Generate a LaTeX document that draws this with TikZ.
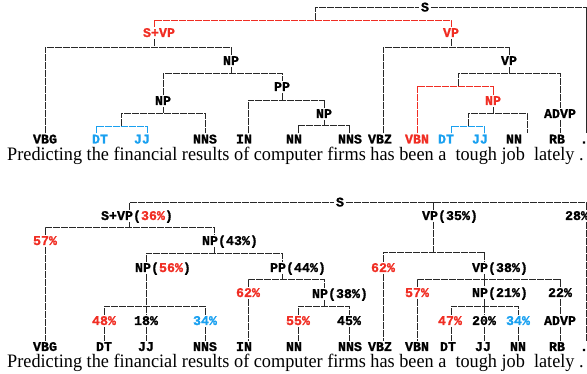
\documentclass[tikz,border=0pt]{standalone}
\usepackage{fontspec}
\newfontfamily\lblf[BoldFeatures={FakeBold=1.2}]{Liberation Mono}
\newfontfamily\sentf[FakeStretch=0.96]{Liberation Serif}
\newcommand\lblfont{\lblf\bfseries\fontsize{13.3pt}{14pt}\selectfont}
\newcommand\sentfont{\sentf\fontsize{19pt}{22pt}\selectfont}
\definecolor{tred}{RGB}{240,45,35}
\definecolor{tblue}{RGB}{25,160,240}
\definecolor{tline}{RGB}{40,40,40}
\newcommand\rd[1]{\textcolor{tred}{#1}}
\newcommand\bu[1]{\textcolor{tblue}{#1}}
% node: name, attach x, y, label x-offset, text
\newcommand\tnode[5]{\coordinate (#1) at (#2,#3); \node[lab] (#1t) at ([xshift=#4pt]#1) {#5};}
% bar: [style] bar coordinate, left child, right child
\newcommand\tbar[4][tl]{\draw[#1] (#3 |- #3t.north) -- (#3 |- #2) -- (#4 |- #2) -- (#4 |- #4t.north);}
% middle child
\newcommand\tvd[3][tl]{\draw[#1] (#3 |- #2) -- (#3 |- #3t.north);}
% parent stub down to its bar
\newcommand\tstub[1]{\draw[tl] (#1 |- #1t.south) -- (#1b);}
% single link
\newcommand\tlink[2]{\draw[tl] (#1 |- #1t.south) -- (#2 |- #2t.north);}
\begin{document}
\begin{tikzpicture}[x=1pt,y=-1pt,
 tl/.style={draw=tline, line width=0.9pt, dash pattern=on 7.3pt off 0.7pt},
 rl/.style={tl, draw=tred},
 bl/.style={tl, draw=tblue},
 lab/.style={font=\lblfont, inner sep=0pt, outer sep=2pt, text height=8pt, text depth=0pt},
 wd/.style={font=\sentfont, anchor=base west, inner sep=0pt}]
\useasboundingbox (0,0) rectangle (587,374);

% ================= top tree =================
\node[lab] (s1t) at (425,7.5) {S};
\coordinate (j1) at (315,20);
\coordinate (j2) at (121,126);
\coordinate (j3) at (458,86);
\coordinate (j4) at (468,126);
\tnode{svp1}{154}{33}{5}{\rd{S+VP}}
\tnode{vp1}{451}{33}{0}{\rd{VP}}
\tnode{np1}{231}{61}{0}{NP}
\tnode{vp2}{509}{61}{0}{VP}
\tnode{pp1}{282}{87}{0}{PP}
\tnode{np2}{163}{101}{0}{NP}
\tnode{np4}{493}{101}{0}{\rd{NP}}
\tnode{np3}{324}{114}{0}{NP}
\tnode{advp1}{560}{114}{0}{ADVP}
\tnode{vbg1}{45}{139.5}{0}{VBG}
\tnode{dt1}{96}{139.5}{4}{\bu{DT}}
\tnode{jj1}{147}{139.5}{-5}{\bu{JJ}}
\tnode{nns1}{205}{139.5}{0}{NNS}
\tnode{in1}{248}{139.5}{-4}{IN}
\tnode{nn1}{298}{139.5}{-4}{NN}
\tnode{nns2}{349}{139.5}{1}{NNS}
\tnode{vbz1}{383}{139.5}{-3}{VBZ}
\tnode{vbn1}{417}{139.5}{0}{\rd{VBN}}
\tnode{dt2}{451}{139.5}{-5}{\bu{DT}}
\tnode{jj2}{484}{139.5}{-4}{\bu{JJ}}
\tnode{nn2}{527}{139.5}{-13}{NN}
\tnode{rb1}{560}{139.5}{-3}{RB}
\tnode{dot1}{586}{139.5}{-2}{.}
\coordinate (svp1b) at (154,47);
\coordinate (np1b) at (231,73);
\coordinate (np2b) at (163,113);
\coordinate (pp1b) at (282,100);
\coordinate (np3b) at (324,125);
\coordinate (vp1b) at (451,47);
\coordinate (vp2b) at (509,73);
\coordinate (np4b) at (493,113);

\draw[tl] (j1) -- (j1 |- s1t) -- (s1t.west);
\draw[tl] (s1t.east) -- (dot1 |- s1t) -- (dot1 |- dot1t.north);
\tbar[rl]{j1}{svp1}{vp1}
\tstub{svp1} \tbar{svp1b}{vbg1}{np1}
\tstub{np1} \tbar{np1b}{np2}{pp1}
\tstub{np2}
\draw[tl] (j2) -- (j2 |- np2b) -- (nns1 |- np2b) -- (nns1 |- nns1t.north);
\tbar[bl]{j2}{dt1}{jj1}
\tstub{pp1} \tbar{pp1b}{in1}{np3}
\tstub{np3} \tbar{np3b}{nn1}{nns2}
\tstub{vp1} \tbar{vp1b}{vbz1}{vp2}
\tstub{vp2}
\draw[tl] (j3) -- (j3 |- vp2b) -- (advp1 |- vp2b) -- (advp1 |- advp1t.north);
\tbar[rl]{j3}{vbn1}{np4}
\tstub{np4}
\draw[tl] (j4) -- (j4 |- np4b) -- (nn2 |- np4b) -- (nn2 |- nn2t.north);
\tbar[bl]{j4}{dt2}{jj2}
\tlink{advp1}{rb1}

% ================= bottom tree =================
\node[lab] (s2t) at (340,202.5) {S};
\tnode{svp2}{129}{216}{8}{S+VP(\rd{36\%})}
\tnode{vp3}{433}{216}{17}{VP(35\%)}
\tnode{p28}{586}{216}{-9}{28\%}
\tnode{p57a}{45}{241}{0}{\rd{57\%}}
\tnode{np5}{214}{241}{16}{NP(43\%)}
\tnode{np6}{146}{268}{17}{NP(\rd{56\%})}
\tnode{pp2}{282}{268}{16}{PP(44\%)}
\tnode{p62b}{383}{268}{0}{\rd{62\%}}
\tnode{vp4}{484}{268}{16}{VP(38\%)}
\tnode{p62a}{248}{293}{0}{\rd{62\%}}
\tnode{np7}{324}{294}{16}{NP(38\%)}
\tnode{p57b}{417}{293}{0}{\rd{57\%}}
\tnode{np8}{484}{293}{16}{NP(21\%)}
\tnode{p22}{560}{293}{0}{22\%}
\tnode{p48}{104}{321}{0}{\rd{48\%}}
\tnode{p18}{146}{321}{0}{18\%}
\tnode{p34a}{205}{321}{0}{\bu{34\%}}
\tnode{p55}{298}{321}{0}{\rd{55\%}}
\tnode{p45}{349}{321}{0}{45\%}
\tnode{p47}{451}{321}{-1}{\rd{47\%}}
\tnode{p20}{484}{321}{0}{20\%}
\tnode{p34b}{518}{321}{0}{\bu{34\%}}
\tnode{advp2}{560}{321}{0}{ADVP}
\tnode{vbg2}{45}{347}{0}{VBG}
\tnode{dt3}{104}{347}{0}{DT}
\tnode{jj3}{146}{347}{0}{JJ}
\tnode{nns3}{205}{347}{0}{NNS}
\tnode{in2}{248}{347}{-4}{IN}
\tnode{nn3}{298}{347}{-4}{NN}
\tnode{nns4}{349}{347}{1}{NNS}
\tnode{vbz2}{383}{347}{-3}{VBZ}
\tnode{vbn2}{417}{347}{0}{VBN}
\tnode{dt4}{451}{347}{-3}{DT}
\tnode{jj4}{484}{347}{-1}{JJ}
\tnode{nn4}{518}{347}{0}{NN}
\tnode{rb2}{560}{347}{-3}{RB}
\tnode{dot2}{586}{347}{-2}{.}
\coordinate (svp2b) at (129,227);
\coordinate (np5b) at (214,253);
\coordinate (np6b) at (146,306);
\coordinate (pp2b) at (282,279);
\coordinate (np7b) at (324,306);
\coordinate (vp3b) at (433,252);
\coordinate (vp4b) at (484,279);
\coordinate (np8b) at (484,306);

\draw[tl] (svp2 |- svp2t.north) -- (svp2 |- s2t) -- (s2t.west);
\draw[tl] (s2t.east) -- (p28 |- s2t) -- (p28 |- p28t.north);
\draw[tl] (vp3 |- s2t) -- (vp3 |- vp3t.north);
\tstub{svp2} \tbar{svp2b}{p57a}{np5}
\tlink{p57a}{vbg2}
\tstub{np5} \tbar{np5b}{np6}{pp2}
\tstub{np6} \tbar{np6b}{p48}{p34a} \tvd{np6b}{p18}
\tlink{p48}{dt3} \tlink{p18}{jj3} \tlink{p34a}{nns3}
\tstub{pp2} \tbar{pp2b}{p62a}{np7}
\tlink{p62a}{in2}
\tstub{np7} \tbar{np7b}{p55}{p45}
\tlink{p55}{nn3} \tlink{p45}{nns4}
\tstub{vp3} \tbar{vp3b}{p62b}{vp4}
\tlink{p62b}{vbz2}
\tstub{vp4} \tbar{vp4b}{p57b}{p22} \tvd{vp4b}{np8}
\tlink{p57b}{vbn2} \tlink{p22}{advp2} \tlink{advp2}{rb2}
\tstub{np8} \tbar{np8b}{p47}{p34b} \tvd{np8b}{p20}
\tlink{p47}{dt4} \tlink{p20}{jj4} \tlink{p34b}{nn4}
\tlink{p28}{dot2}

% ================= sentences =================
\node[wd] (sent1) at (7,161) {Predicting the financial results of computer firms has been a\ \ tough job\ \ lately .};
\node[wd] (sent2) at (7,368) {Predicting the financial results of computer firms has been a\ \ tough job\ \ lately .};
\end{tikzpicture}
\end{document}
